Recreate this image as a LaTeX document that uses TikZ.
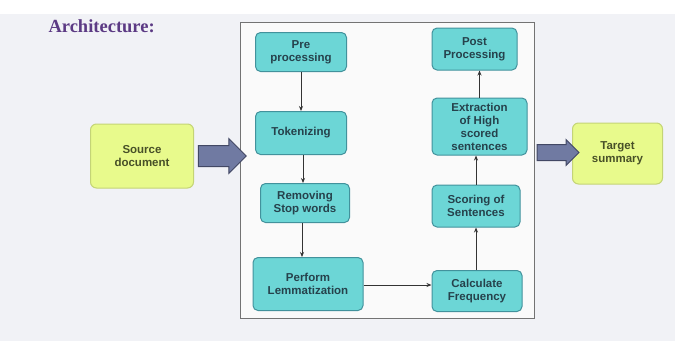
\documentclass[tikz,border=0pt]{standalone}
\usepackage{fontspec}
\setmainfont{Liberation Sans}
\newfontfamily\titlefont{Liberation Serif}
\usetikzlibrary{arrows.meta,shapes.arrows}
\definecolor{stepfill}{RGB}{108,214,214}
\definecolor{stepline}{RGB}{66,146,156}
\definecolor{steptext}{RGB}{38,66,76}
\definecolor{docfill}{RGB}{232,250,140}
\definecolor{docline}{RGB}{196,212,118}
\definecolor{doctext}{RGB}{72,80,40}
\definecolor{arrfill}{RGB}{112,122,162}
\definecolor{arrline}{RGB}{66,72,100}
\definecolor{titlecol}{RGB}{92,58,132}
\definecolor{bgcol}{RGB}{241,242,246}

\begin{document}
\begin{tikzpicture}[x=1pt, y=-1pt]
        \tikzstyle{stepbox}=[draw=stepline,fill=stepfill,rounded corners=5pt,line width=1pt,align=center,inner sep=2pt,text=steptext,font=\bfseries\fontsize{11.5}{13}\selectfont]
        \tikzstyle{docbox}=[draw=docline,fill=docfill,rounded corners=6pt,line width=1pt,align=center,text=doctext,minimum width=103pt,minimum height=64pt,font=\bfseries\fontsize{11.5}{13}\selectfont]
        \tikzstyle{blockarrow}=[single arrow,draw=arrline,fill=arrfill,line width=1pt,inner sep=0pt]
        \tikzstyle{flow}=[draw=black!80,line width=1pt,-{Stealth[length=5pt,width=4pt]}]

        % background
        \fill[bgcol] (0,0) rectangle (675,341);
        \fill[white] (0,0) rectangle (675,14);
        \fill[black!2] (240,22) rectangle (534,318);

        \node[anchor=west,text=titlecol,font=\titlefont\bfseries\fontsize{18.5}{20}\selectfont] (title) at (45,26) {Architecture:};

        \node[draw=black!55,line width=0.8pt,minimum width=294pt,minimum height=296pt,inner sep=0pt] (frame) at (387,170) {};

        \node[docbox] (src) at (142,156) {Source\\document};
        \node[docbox,minimum width=90pt,minimum height=61pt] (tgt) at (617.5,153.5) {Target\\summary};

        \node[stepbox,minimum width=91pt,minimum height=39pt] (S_1) at (301,52) {Pre\\processing};
        \node[stepbox,minimum width=91pt,minimum height=43pt] (S_2) at (301,133) {Tokenizing};
        \node[stepbox,minimum width=89pt,minimum height=39pt] (S_3) at (305,203) {Removing\\Stop words};
        \node[stepbox,minimum width=110pt,minimum height=53pt] (S_4) at (308,284) {Perform\\Lemmatization};
        \node[stepbox,minimum width=90pt,minimum height=41pt] (S_5) at (477,291) {Calculate\\Frequency};
        \node[stepbox,minimum width=88pt,minimum height=42pt] (S_6) at (476,206) {Scoring of\\Sentences};
        \node[stepbox,minimum width=95pt,minimum height=57pt] (S_7) at (479.5,126.5) {Extraction\\of High\\scored\\sentences};
        \node[stepbox,minimum width=85pt,minimum height=42pt] (S_8) at (474.5,49) {Post\\Processing};

        \node[blockarrow,minimum height=48pt,inner ysep=10pt,single arrow head extend=7pt] (A_in) at (217,156) {};
        \node[blockarrow,minimum height=42pt,inner ysep=7.5pt,single arrow head extend=5pt] (A_out) at (554,152.5) {};

        \draw[flow] (S_1.south) -- (S_1.south |- S_2.north);
        \draw[flow] ([xshift=2pt]S_2.south) -- ([xshift=2pt]S_2.south |- S_3.north);
        \draw[flow] ([xshift=-3pt]S_3.south) -- ([xshift=-3pt]S_3.south |- S_4.north);
        \draw[flow] (S_4.east |- 0,285) -- (S_5.west |- 0,285);
        \draw[flow] ([xshift=-1pt]S_5.north) -- ([xshift=-1pt]S_5.north |- S_6.south);
        \draw[flow] (S_6.north) -- (S_6.north |- S_7.south);
        \draw[flow] (S_7.north) -- (S_7.north |- S_8.south);
\end{tikzpicture}
\end{document}
